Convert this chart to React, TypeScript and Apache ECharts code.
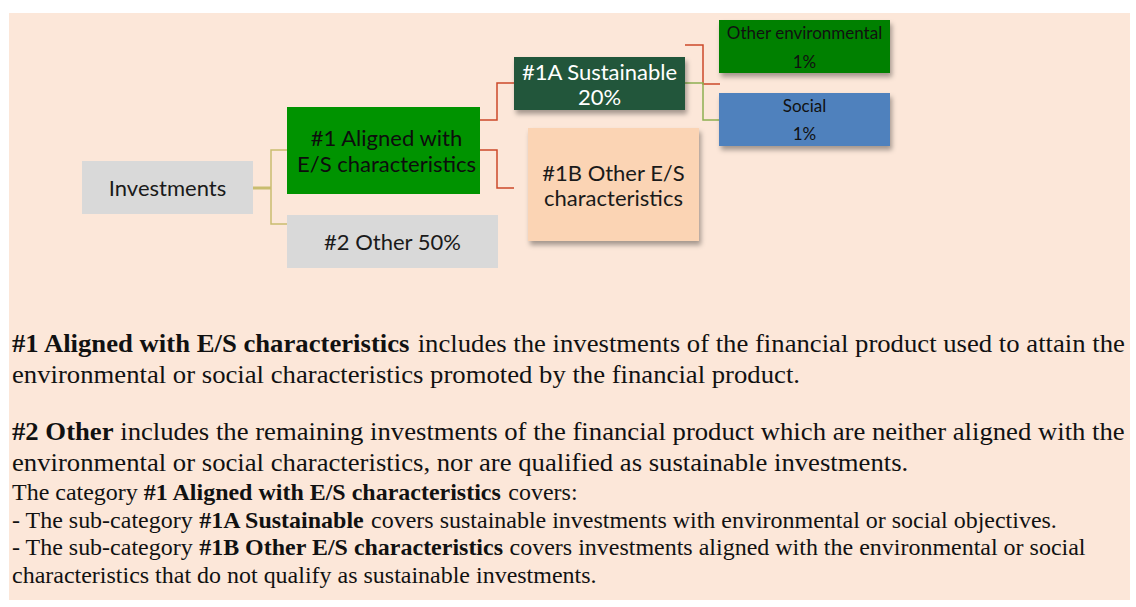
import React, { useEffect, useRef } from "react";
import * as echarts from "echarts";

// ---- data ----
const nodeNames = [
  "Investments",
  "#1 Aligned with\nE/S characteristics",
  "#2 Other",
  "#1A Sustainable",
  "#1B Other E/S\ncharacteristics",
  "Other environmental",
  "Social",
];
const nodeShares: (number | null)[] = [null, null, 50, 20, null, 1, 1];
const shareSeparators = ["", "", " ", "\n", "", "\n", "\n"];

const paragraphLines = [
  "{b|#1 Aligned with E/S characteristics} includes the investments of the financial product used to attain the",
  "environmental or social characteristics promoted by the financial product.",
  "{b|#2 Other} includes the remaining investments of the financial product which are neither aligned with the",
  "environmental or social characteristics, nor are qualified as sustainable investments.",
];
const noteLines = [
  "The category {b|#1 Aligned with E/S characteristics} covers:",
  "- The sub-category {b|#1A Sustainable} covers sustainable investments with environmental or social objectives.",
  "- The sub-category {b|#1B Other E/S characteristics} covers investments aligned with the environmental or social",
  "characteristics that do not qualify as sustainable investments.",
];

// ---- layout (positions / styles) ----
const boxes = [
  { x: 82, y: 161, w: 171, h: 53, dx: 0, fill: "#D9D9D9", color: "#1a1a1a", size: 22, lh: 26, shadow: false },
  { x: 287, y: 107, w: 193, h: 87, dx: 3, fill: "#009300", color: "#0d0d0d", size: 22, lh: 26, shadow: false },
  { x: 287, y: 215, w: 211, h: 53, dx: 0, fill: "#D9D9D9", color: "#1a1a1a", size: 22, lh: 26, shadow: false },
  { x: 514, y: 57, w: 171, h: 53, dx: 0, fill: "#24573A", color: "#ffffff", size: 22, lh: 25, shadow: true },
  { x: 528, y: 128, w: 171, h: 113, dx: 0, fill: "#FBD4B4", color: "#1a1a1a", size: 22, lh: 25, shadow: true },
  { x: 719, y: 20, w: 171, h: 53, dx: 0, fill: "#008000", color: "#111111", size: 17, lh: 29, shadow: true },
  { x: 719, y: 93, w: 171, h: 53, dx: 0, fill: "#4F81BD", color: "#111111", size: 17, lh: 28, shadow: true },
];

const connectors = [
  { pts: [[253, 188], [271, 188]], color: "#C9BD6F", w: 3 },
  { pts: [[287, 150], [271, 150], [271, 224], [287, 224]], color: "#C9BD6F", w: 1.5 },
  { pts: [[480, 120], [497, 120], [497, 83], [514, 83]], color: "#CC4A2A", w: 1.5 },
  { pts: [[480, 150], [497, 150], [497, 188], [514, 188]], color: "#CC4A2A", w: 1.5 },
  { pts: [[685, 45], [703, 45], [703, 84], [720, 84]], color: "#CC4A2A", w: 1.5 },
  { pts: [[685, 83], [703, 83], [703, 120], [719, 120]], color: "#8DB052", w: 1.5 },
];

export default function App() {
  const ref = useRef<HTMLDivElement>(null);
  useEffect(() => {
    if (!ref.current) return;
    const chart = echarts.init(ref.current, null, { renderer: "svg" });
    const elements: any[] = [];
    elements.push({
      type: "rect",
      shape: { x: 9, y: 13, width: 1121, height: 587 },
      style: { fill: "#FCE7D9" },
      silent: true,
    });
    connectors.forEach((c) => {
      elements.push({
        type: "polyline",
        shape: { points: c.pts },
        style: { stroke: c.color, lineWidth: c.w, fill: null },
      });
    });
    boxes.forEach((b, i) => {
      const share = nodeShares[i];
      const label = nodeNames[i] + (share != null ? shareSeparators[i] + share + "%" : "");
      elements.push({
        type: "rect",
        shape: { x: b.x, y: b.y, width: b.w, height: b.h },
        style: b.shadow
          ? {
              fill: b.fill,
              shadowBlur: 5,
              shadowOffsetX: 2,
              shadowOffsetY: 4,
              shadowColor: "rgba(0,0,0,0.35)",
            }
          : { fill: b.fill },
      });
      elements.push({
        type: "text",
        x: b.x + b.w / 2 + b.dx,
        y: b.y + b.h / 2,
        style: {
          text: label,
          fill: b.color,
          fontSize: b.size,
          fontFamily: "Lato",
          lineHeight: b.lh,
          align: "center",
          verticalAlign: "middle",
        },
      });
    });
    const bigY = [344, 375, 432, 463];
    paragraphLines.forEach((t, i) => {
      elements.push({
        type: "text",
        x: 12,
        y: bigY[i],
        scaleX: 1.068,
        style: {
          text: t,
          fill: "#111111",
          fontSize: 25,
          fontFamily: "Liberation Serif",
          verticalAlign: "middle",
          align: "left",
          rich: { b: { fontWeight: "bold", fontSize: 25, fontFamily: "Liberation Serif", fill: "#111111" } },
        },
      });
    });
    const smallY = [492, 520, 547, 575];
    noteLines.forEach((t, i) => {
      elements.push({
        type: "text",
        x: 12,
        y: smallY[i],
        scaleX: 1.043,
        style: {
          text: t,
          fill: "#111111",
          fontSize: 23,
          fontFamily: "Liberation Serif",
          verticalAlign: "middle",
          align: "left",
          rich: { b: { fontWeight: "bold", fontSize: 23, fontFamily: "Liberation Serif", fill: "#111111" } },
        },
      });
    });
    chart.setOption({
      animation: false,
      backgroundColor: "#ffffff",
      graphic: { elements },
    });
    return () => chart.dispose();
  }, []);
  return (
    <div
      ref={ref}
      style={{ position: "fixed", left: 0, top: 0, width: 1136, height: 607 }}
    />
  );
}
